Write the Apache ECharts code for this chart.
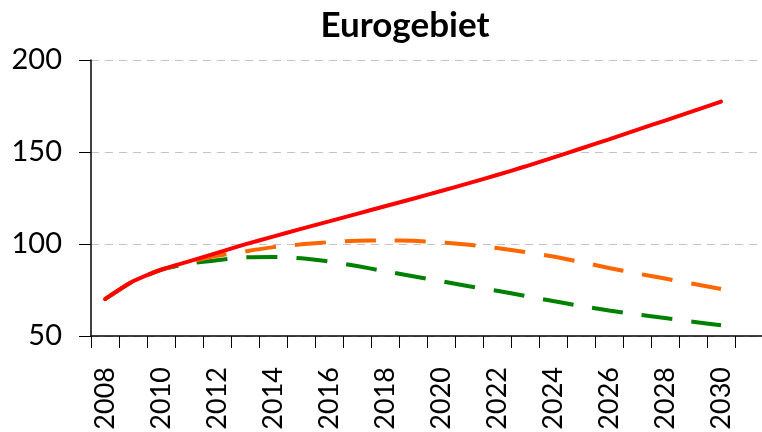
<!DOCTYPE html>
<html>
<head>
<meta charset="utf-8">
<script src="https://cdn.jsdelivr.net/npm/echarts@6/dist/echarts.min.js"></script>
<style>
  html, body { margin: 0; padding: 0; background: #fff; }
  #chart { width: 762px; height: 432px; }
</style>
</head>
<body>
<div id="chart"></div>
<script>
// Jahre (letzte Kategorie bleibt leer, Achse läuft bis zum Rand)
const years = [
  "2008", "2009", "2010", "2011", "2012", "2013", "2014", "2015",
  "2016", "2017", "2018", "2019", "2020", "2021", "2022", "2023",
  "2024", "2025", "2026", "2027", "2028", "2029", "2030", "2031",
];
// rot, durchgezogen
const redSeries = [
  70, 79.7, 86, 90.6, 95.2, 99.8, 104, 108.2, 112.3, 116.4, 120.5, 124.6,
  128.8, 133.1, 137.5, 142.1, 146.9, 151.9, 156.9, 162, 167.1, 172.2, 177.4,
];
// orange, gestrichelt
const orangeSeries = [
  70, 79.7, 86, 90.3, 93.6, 96, 98.3, 99.8, 101, 101.7, 102, 101.7,
  100.9, 99.6, 97.8, 95.6, 93.2, 90.2, 87, 84, 81.2, 78.4, 75.5,
];
// grün, gestrichelt
const greenSeries = [
  70, 79.7, 86, 89.3, 91.2, 92.7, 93, 92.2, 90.5, 88, 85.2, 82.5,
  79.8, 77, 74.6, 71.8, 69, 66.3, 63.9, 61.7, 59.8, 57.8, 55.8,
];
const yTicks = [50, 100, 150, 200];

const chart = echarts.init(document.getElementById("chart"));
const font = "Lato, 'Open Sans', sans-serif";

const lineBase = {
  type: "line",
  showSymbol: false,
  symbol: "none",
  smooth: 0.2,
};

chart.setOption({
  animation: false,
  backgroundColor: "#fff",
  title: {
    text: "Eurogebiet",
    left: 400,
    top: 3,
    textAlign: "center",
    textStyle: {
      fontFamily: font,
      fontWeight: "bold",
      fontSize: 35,
      color: "#000",
    },
  },
  grid: {
    left: 91,
    top: 60,
    width: 672,
    height: 276,
    containLabel: false,
    outerBoundsMode: "none",
  },
  xAxis: {
    type: "category",
    data: years,
    boundaryGap: true,
    axisLine: { lineStyle: { color: "#000", width: 1.5 } },
    axisTick: {
      show: true,
      interval: 0,
      length: 12,
      lineStyle: { color: "#000", width: 1 },
    },
    axisLabel: {
      interval: 1,
      rotate: 90,
      margin: 31,
      fontFamily: font,
      fontSize: 27,
      color: "#000",
    },
    splitLine: { show: false },
  },
  yAxis: {
    type: "value",
    min: yTicks[0],
    max: yTicks[yTicks.length - 1],
    interval: 50,
    axisLine: { show: true, lineStyle: { color: "#000", width: 1.5 } },
    axisTick: {
      show: true,
      length: 12,
      lineStyle: { color: "#000", width: 1 },
    },
    axisLabel: {
      margin: 29,
      fontFamily: font,
      fontSize: 29,
      color: "#000",
    },
    splitLine: {
      show: true,
      lineStyle: { color: "#c4c4c4", type: [8, 6], width: 1 },
    },
  },
  series: [
    {
      ...lineBase,
      name: "grün",
      data: greenSeries,
      lineStyle: { color: "#008000", width: 4, type: [31, 19] },
    },
    {
      ...lineBase,
      name: "orange",
      data: orangeSeries,
      lineStyle: { color: "#ff6600", width: 4, type: [31, 19] },
    },
    {
      ...lineBase,
      name: "rot",
      data: redSeries,
      lineStyle: { color: "#ff0000", width: 4, cap: "round" },
    },
  ],
});
</script>
</body>
</html>
